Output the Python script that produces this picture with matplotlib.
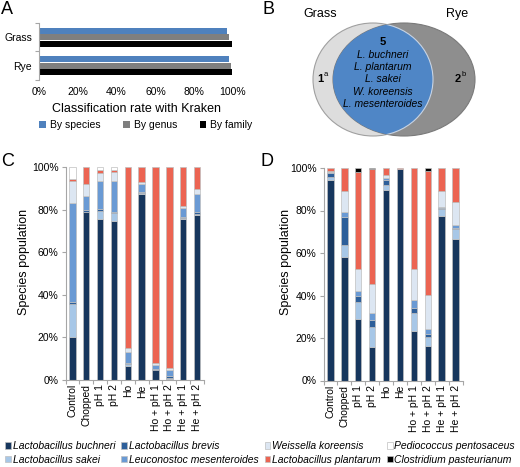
import numpy as np
import matplotlib
matplotlib.use("Agg")
import matplotlib.pyplot as plt
from matplotlib.patches import Ellipse, Patch

plt.rcParams['font.family'] = ['Liberation Sans', 'DejaVu Sans']

# ---------------- data ----------------
# Panel A
kr_samples = ['Grass', 'Rye']
kr_levels = ['By species', 'By genus', 'By family']
kr_species = [97.1, 97.9]
kr_genus = [97.9, 99.0]
kr_family = [99.5, 99.7]
kr_colors = ['#4F81BD', '#7F7F7F', '#000000']

# Panel B
venn_sets = ['Grass', 'Rye']
venn_grass_only = 1
venn_shared = 5
venn_rye_only = 2
venn_shared_names = ['L. buchneri', 'L. plantarum', 'L. sakei', 'W. koreensis', 'L. mesenteroides']

# Panels C & D
conditions = ['Control', 'Chopped', 'pH 1', 'pH 2', 'Ho', 'He',
              'Ho + pH 1', 'Ho + pH 2', 'He + pH 1', 'He + pH 2']
species = ['Lactobacillus buchneri', 'Lactobacillus sakei', 'Lactobacillus brevis',
           'Leuconostoc mesenteroides', 'Weissella koreensis', 'Lactobacillus plantarum',
           'Pediococcus pentosaceus', 'Clostridium pasteurianum']
species_colors = ['#17375E', '#A7C7E7', '#2D5F9A', '#6A9AD4', '#DCE6F2', '#EC6452',
                  '#FFFFFF', '#000000']

# Panel C (grass), percent per condition
C_buchneri = [20.0, 78.7, 75.7, 74.5, 6.8, 87.2, 4.6, 0.6, 75.7, 77.5]
C_sakei = [15.8, 0.0, 3.8, 4.1, 0.5, 0.6, 0.0, 0.3, 0.5, 0.6]
C_brevis = [1.0, 1.1, 0.6, 0.4, 0.5, 0.6, 0.6, 1.0, 0.5, 0.6]
C_mesenteroides = [46.2, 6.6, 13.5, 14.4, 5.5, 3.5, 2.0, 2.8, 4.1, 8.5]
C_koreensis = [10.2, 5.6, 3.7, 4.3, 1.8, 1.1, 0.8, 1.1, 1.0, 2.3]
C_plantarum = [1.2, 8.0, 1.3, 1.0, 84.9, 7.0, 92.0, 94.2, 18.2, 10.5]
C_pentosaceus = [5.6, 0.0, 1.4, 1.3, 0.0, 0.0, 0.0, 0.0, 0.0, 0.0]
C_pasteurianum = [0.0, 0.0, 0.0, 0.0, 0.0, 0.0, 0.0, 0.0, 0.0, 0.0]

# Panel D (rye)
D_buchneri = [94.2, 58.1, 28.8, 15.6, 89.6, 99.3, 23.5, 16.3, 77.5, 66.6]
D_sakei = [1.8, 5.6, 8.0, 9.4, 2.4, 0.0, 8.4, 4.3, 3.3, 4.8]
D_brevis = [1.5, 13.3, 3.0, 3.5, 2.5, 0.0, 2.1, 1.2, 0.3, 0.6]
D_mesenteroides = [0.5, 2.4, 2.5, 3.3, 0.9, 0.0, 3.9, 2.4, 0.7, 1.4]
D_koreensis = [0.8, 9.7, 10.0, 13.8, 1.2, 0.0, 14.4, 16.1, 7.5, 10.7]
D_plantarum = [1.2, 10.9, 45.9, 53.8, 3.4, 0.7, 47.7, 58.3, 10.7, 15.9]
D_pentosaceus = [0.0, 0.0, 0.0, 0.0, 0.0, 0.0, 0.0, 0.0, 0.0, 0.0]
D_pasteurianum = [0.0, 0.0, 1.8, 0.6, 0.0, 0.0, 0.0, 1.4, 0.0, 0.0]

C_data = [C_buchneri, C_sakei, C_brevis, C_mesenteroides, C_koreensis,
          C_plantarum, C_pentosaceus, C_pasteurianum]
D_data = [D_buchneri, D_sakei, D_brevis, D_mesenteroides, D_koreensis,
          D_plantarum, D_pentosaceus, D_pasteurianum]

pct_ticks = [0, 20, 40, 60, 80, 100]

# ---------------- layout helpers ----------------
W, H = 520, 467
fig = plt.figure(figsize=(W / 100, H / 100), dpi=100)


def fx(px):
    return px / W


def fy(py):
    return 1 - py / H


def box(l, t, r, b):
    return [l / W, 1 - b / H, (r - l) / W, (b - t) / H]


AXC = '#A6A6A6'
TS = 7.5

# ---------------- Panel A ----------------
axA = fig.add_axes(box(39, 23, 233, 80))
ypos = np.arange(len(kr_samples))[::-1]
for k, (vals, col, lab) in enumerate(zip([kr_species, kr_genus, kr_family], kr_colors, kr_levels)):
    axA.barh(ypos + (1 - k) * 0.22, vals, height=0.21, color=col, label=lab)
axA.set_xlim(0, 100)
axA.set_ylim(-0.5, len(kr_samples) - 0.5)
axA.set_xticks(pct_ticks)
axA.set_xticklabels([f'{v}%' for v in pct_ticks])
axA.tick_params(axis='x', length=0, labelsize=TS, pad=5)
axA.set_yticks(np.arange(-0.5, len(kr_samples), 1.0))
axA.set_yticklabels([])
axA.set_yticks(ypos, minor=True)
axA.set_yticklabels(kr_samples, minor=True)
axA.tick_params(axis='y', which='major', length=3, color=AXC)
axA.tick_params(axis='y', which='minor', length=0, labelsize=TS, pad=5)
for s in ['top', 'right', 'bottom']:
    axA.spines[s].set_visible(False)
axA.spines['left'].set_color(AXC)
axA.set_xlabel('Classification rate with Kraken', fontsize=9, labelpad=4)
hA, lA = axA.get_legend_handles_labels()
fig.legend(hA, lA, loc='center', bbox_to_anchor=(fx(146), fy(125)), ncol=3,
           frameon=False, fontsize=TS, handlelength=0.6, handleheight=0.6,
           handletextpad=0.4, columnspacing=2.2, borderpad=0, borderaxespad=0)

# ---------------- Panel B ----------------
axB = fig.add_axes(box(262, 0, 520, 145))
axB.set_xlim(262, 520)
axB.set_ylim(145, 0)
axB.axis('off')
grass = Ellipse((373, 79.5), 120, 113, facecolor='#DDDDDD', edgecolor='#A0A0A0', lw=0.8)
rye = Ellipse((404, 79.5), 142, 113, facecolor='#8E8E8E', edgecolor='#7A7A7A', lw=0.8)
axB.add_patch(grass)
axB.add_patch(rye)
shared = Ellipse((373, 79.5), 120, 113, facecolor='#4F86C6', edgecolor='#C8D4E4', lw=0.8)
axB.add_patch(shared)
shared.set_clip_path(rye)
axB.text(320, 14, venn_sets[0], fontsize=9, ha='center', va='center')
axB.text(457, 14, venn_sets[1], fontsize=9, ha='center', va='center')
axB.text(383, 42, str(venn_shared), fontsize=8, fontweight='bold', ha='center', va='center')
for i, nm in enumerate(venn_shared_names):
    axB.text(383, 54.5 + i * 12.4, nm, fontsize=7.5, style='italic', ha='center', va='center')
axB.text(320, 79, str(venn_grass_only), fontsize=8, fontweight='bold', ha='center', va='center')
axB.text(325.5, 75, 'a', fontsize=5.5, ha='center', va='center')
axB.text(458, 79, str(venn_rye_only), fontsize=8, fontweight='bold', ha='center', va='center')
axB.text(463.5, 75, 'b', fontsize=5.5, ha='center', va='center')


# ---------------- Panels C & D ----------------
def stacked(ax, data):
    x = np.arange(len(conditions))
    bottom = np.zeros(len(conditions))
    for vals, col in zip(data, species_colors):
        v = np.asarray(vals, dtype=float)
        m = v > 0
        ax.bar(x[m], v[m], bottom=bottom[m], width=0.46, color=col,
               edgecolor='#BFBFBF', linewidth=0.5)
        bottom += v
    ax.set_xlim(-0.5, len(conditions) - 0.5)
    ax.set_ylim(0, 100)
    ax.set_yticks(pct_ticks)
    ax.set_yticklabels([f'{v}%' for v in pct_ticks])
    ax.tick_params(axis='y', length=3, color=AXC, labelsize=TS, pad=2)
    ax.set_xticks(np.arange(-0.5, len(conditions), 1.0))
    ax.set_xticklabels([])
    ax.tick_params(axis='x', which='major', length=3, color=AXC)
    ax.set_xticks(x, minor=True)
    ax.set_xticklabels(conditions, minor=True, rotation=90)
    ax.tick_params(axis='x', which='minor', length=0, labelsize=TS, pad=3)
    for s in ['top', 'right']:
        ax.spines[s].set_visible(False)
    for s in ['left', 'bottom']:
        ax.spines[s].set_color(AXC)


axC = fig.add_axes(box(65.5, 167, 204, 380))
stacked(axC, C_data)
axD = fig.add_axes(box(323.5, 168, 462.5, 380.5))
stacked(axD, D_data)

fig.text(fx(24), fy(261.5), 'Species population', rotation=90, ha='center', va='center', fontsize=9)
fig.text(fx(286), fy(261.5), 'Species population', rotation=90, ha='center', va='center', fontsize=9)

# panel letters
for letter, (px, py) in zip('ABCD', [(7, 9), (268, 9), (8, 162), (267, 162)]):
    fig.text(fx(px), fy(py), letter, fontsize=13, ha='center', va='center')

# bottom legend
handles = [Patch(facecolor=c, edgecolor='#BFBFBF', linewidth=0.5) for c in species_colors]
fig.legend(handles, species, loc='center', bbox_to_anchor=(0.5, fy(453)), ncol=4,
           frameon=False, prop=dict(style='italic', size=TS),
           handlelength=0.55, handleheight=0.55, handletextpad=0.15,
           columnspacing=0.6, labelspacing=0.35, borderpad=0, borderaxespad=0)

fig.savefig('out.png', dpi=100)
